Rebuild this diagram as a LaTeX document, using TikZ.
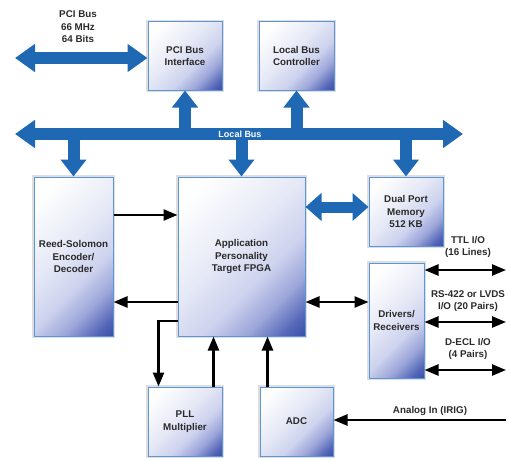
\documentclass[tikz,border=0pt]{standalone}
\usepackage{fontspec}
\setmainfont{Liberation Sans}
\usetikzlibrary{arrows.meta,shadows}
\definecolor{busblue}{HTML}{1F68B4}
\definecolor{edgeblue}{HTML}{5A96D8}
\definecolor{boxdark}{HTML}{2B45A0}
\definecolor{boxlow}{HTML}{5466B8}
\definecolor{boxmid}{HTML}{9AA4D8}
\definecolor{boxlight}{HTML}{CDD2EE}
\definecolor{boxpale}{HTML}{E6E9F6}
\definecolor{txtgray}{HTML}{2A2A2A}
\pgfdeclarehorizontalshading{boxshade}{100bp}{color(0bp)=(white); color(22bp)=(white);
  color(45bp)=(boxpale); color(60bp)=(boxlight); color(71bp)=(boxmid); color(80bp)=(boxlow);
  color(88bp)=(boxdark); color(100bp)=(boxdark)}
\tikzset{
  box/.style={draw=edgeblue, line width=1pt, shading=boxshade, shading angle=-45,
    align=center, text=txtgray,
    general shadow={fill=black, draw=black, line width=4pt, opacity=0.13},
    font=\fontsize{9.8}{12.5}\selectfont\bfseries, inner sep=1pt},
  lbl/.style={align=center, text=txtgray, font=\fontsize{9.8}{12.5}\selectfont\bfseries},
  bus/.style={draw=busblue, line width=12pt,
    {Triangle[length=20pt,width=27pt]}-{Triangle[length=20pt,width=27pt]}},
  tap/.style={draw=busblue, line width=12pt, -{Triangle[length=17pt,width=25pt]}},
  link/.style={draw=busblue, line width=11pt,
    {Triangle[length=16pt,width=27pt]}-{Triangle[length=16pt,width=27pt]}},
  sig/.style={draw=black, line width=2.5pt, -{Triangle[length=14pt,width=11pt]}},
  sigs/.style={draw=black, line width=2.5pt,
    {Triangle[length=14pt,width=11pt]}-{Triangle[length=14pt,width=11pt]}}
}
\begin{document}
\begin{tikzpicture}[x=1pt,y=-1pt]
  \useasboundingbox (0,0) rectangle (508,460);
  \node[box, minimum width=74pt, minimum height=68pt] (pci) at (185,56) {PCI Bus\\Interface};
  \node[box, minimum width=75pt, minimum height=68pt] (lbc) at (296.5,56) {Local Bus\\Controller};
  \node[box, minimum width=79pt, minimum height=159pt] (rs) at (73.5,256.5) {Reed-Solomon\\Encoder/\\Decoder};
  \node[box, minimum width=127pt, minimum height=159pt] (fpga) at (241.5,256.5) {Application\\Personality\\Target FPGA};
  \node[box, minimum width=74pt, minimum height=69pt] (dpm) at (406,211.5) {Dual Port\\Memory\\512 KB};
  \node[box, minimum width=55pt, minimum height=115pt] (drv) at (396.5,320.5) {Drivers/\\Receivers};
  \node[box, minimum width=74pt, minimum height=69pt] (pll) at (185,421.5) {PLL\\Multiplier};
  \node[box, minimum width=73pt, minimum height=69pt] (adc) at (296.5,421.5) {ADC};

  \coordinate (busL) at (15,134);
  \coordinate (busR) at (463,134);
  \coordinate (pciL) at (15,58);
  \coordinate (io1) at (506,270);
  \coordinate (io2) at (506,322);
  \coordinate (io3) at (506,370);
  \coordinate (ain) at (506,420);

  \draw[bus] (pciL) -- (pci.west |- pciL);
  \draw[bus] (busL) -- (busR);
  \draw[tap] (pci.south |- busL) -- (pci.south);
  \draw[tap] (lbc.south |- busL) -- (lbc.south);
  \draw[tap] (rs.north |- busL) -- (rs.north);
  \draw[tap] (fpga.north |- busL) -- (fpga.north);
  \draw[tap] (dpm.north |- busL) -- (dpm.north);
  \draw[link] ([yshift=4.5pt]dpm.west -| fpga.east) -- ([yshift=4.5pt]dpm.west);

  \draw[sig] ([yshift=41.5pt]rs.east) -- ([yshift=41.5pt]rs.east -| fpga.west);
  \draw[sig] ([yshift=-45.5pt]fpga.west) -- ([yshift=-45.5pt]fpga.west -| rs.east);
  \draw[sigs] ([yshift=-45.5pt]fpga.east) -- ([yshift=-45.5pt]fpga.east -| drv.west);
  \draw[sig] ([yshift=-64.5pt]fpga.west) -| ([xshift=11pt]pll.north west);
  \draw[sig] ([xshift=-9pt]pll.north east) -- ([xshift=-9pt]pll.north east |- fpga.south);
  \draw[sig] ([xshift=8pt]adc.north west) -- ([xshift=8pt]adc.north west |- fpga.south);
  \draw[sigs] (drv.east |- io1) -- (io1);
  \draw[sigs] (drv.east |- io2) -- (io2);
  \draw[sigs] (drv.east |- io3) -- (io3);
  \draw[sig] (ain) -- (adc.east |- ain);

  \node[lbl] (pcibus) at (78,27) {PCI Bus\\66 MHz\\64 Bits};
  \node[lbl, text=white, font=\fontsize{9}{10}\selectfont\bfseries] (localbus) at (240,134) {Local Bus};
  \node[lbl] (ttl) at (468,247) {TTL I/O\\(16 Lines)};
  \node[lbl] (rs422) at (468,301) {RS-422 or LVDS\\I/O (20 Pairs)};
  \node[lbl] (decl) at (468,349) {D-ECL I/O\\(4 Pairs)};
  \node[lbl] (analog) at (430,411) {Analog In (IRIG)};
\end{tikzpicture}
\end{document}
